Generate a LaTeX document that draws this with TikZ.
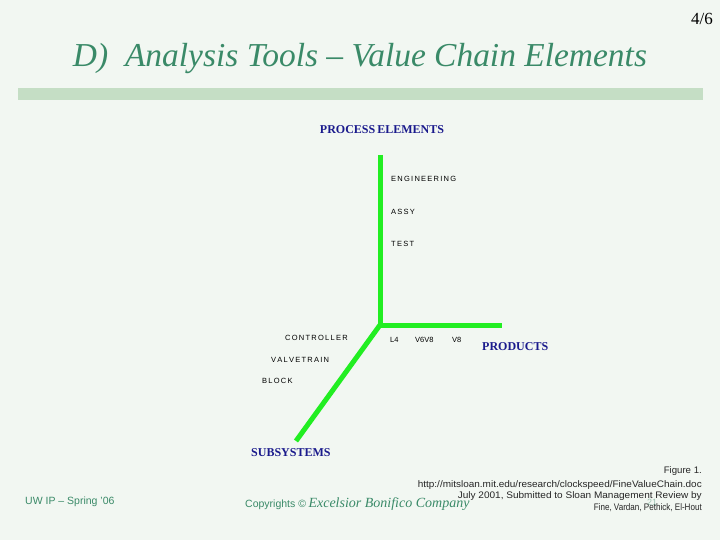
\documentclass[tikz,border=0pt]{standalone}
\usepackage{fontspec}
\usepackage{graphicx}
\setmainfont{Liberation Serif}
\setsansfont{Liberation Sans}
\definecolor{bg}{HTML}{F2F7F2}
\definecolor{titlegreen}{HTML}{3A8A68}
\definecolor{barcol}{HTML}{C5DEC5}
\definecolor{axisgreen}{HTML}{22EE22}
\definecolor{navy}{HTML}{1A1A8C}
\begin{document}
\begin{tikzpicture}[x=1pt,y=-1pt,
  axis/.style={draw=axisgreen,line width=5pt,line cap=butt,line join=miter},
  small/.style={inner sep=0pt,font=\sffamily\fontsize{7.5}{9}\selectfont,text=black},
  big/.style={inner sep=0pt,font=\rmfamily\bfseries\fontsize{12}{14}\selectfont,text=navy},
  foot/.style={inner sep=0pt,font=\sffamily\fontsize{9.5}{11}\selectfont,text=black!85}]
\useasboundingbox (0,0) rectangle (720,540);
\fill[bg] (0,0) rectangle (720,540);
\node[inner sep=0pt,anchor=east,font=\rmfamily\fontsize{17}{20}\selectfont] (page) at (713,19) {4/6};
\node[inner sep=0pt,font=\rmfamily\itshape\fontsize{34}{38}\selectfont,text=titlegreen] (title) at (360,59) {\resizebox{574pt}{!}{D)\enspace Analysis Tools -- Value Chain Elements}};
\fill[barcol] (18,88) rectangle (703,100);
% axes
\coordinate (o) at (380,325);
\coordinate (top) at (380,155);
\coordinate (right) at (502,325);
\coordinate (bot) at (296,441);
\draw[axis] (top) -- (o) -- (right);
\draw[axis] (o) -- (bot);
% labels
\node[big] (pe) at (382,130) {PROCESS\,ELEMENTS};
\node[small,anchor=west] (eng) at (391,179) {E\,N\,G\,I\,N\,E\,E\,R\,I\,N\,G};
\node[small,anchor=west] (assy) at (391,212) {A\,S\,S\,Y};
\node[small,anchor=west] (test) at (391,244) {T\,E\,S\,T};
\node[small,anchor=west] (ctrl) at (285,338) {C\,O\,N\,T\,R\,O\,L\,L\,E\,R};
\node[small,anchor=west] (l4) at (390,340) {L4};
\node[small,anchor=west] (v6v8) at (415,340) {V6V8};
\node[small,anchor=west] (v8) at (452,340) {V8};
\node[big,anchor=west] (prod) at (482,347) {PRODUCTS};
\node[small,anchor=west] (valve) at (271,360) {V\,A\,L\,V\,E\,T\,R\,A\,I\,N};
\node[small,anchor=west] (block) at (262,381) {B\,L\,O\,C\,K};
\node[big,anchor=west] (sub) at (251,453) {SUBSYSTEMS};
% footer
\node[inner sep=0pt,anchor=west,font=\sffamily\fontsize{10.5}{12}\selectfont,text=titlegreen] (uw) at (25,502) {UW IP -- Spring '06};
\node[inner sep=0pt,anchor=west,text=titlegreen] (copy) at (245,504) {{\sffamily\fontsize{10.5}{12}\selectfont Copyrights ©} {\rmfamily\itshape\fontsize{14}{16}\selectfont Excelsior Bonifico Company}};
\node[inner sep=0pt,font=\sffamily\fontsize{9}{11}\selectfont,text=titlegreen!50] (num) at (652,502) {21};
\node[foot,anchor=east] (f1) at (702,471) {\resizebox{38pt}{\height}{Figure 1.}};
\node[foot,anchor=east] (f2) at (702,485) {\resizebox{284pt}{\height}{http://mitsloan.mit.edu/research/clockspeed/FineValueChain.doc}};
\node[foot,anchor=east] (f3) at (702,496.5) {\resizebox{244pt}{\height}{July 2001, Submitted to Sloan Management Review by}};
\node[foot,anchor=east] (f4) at (702,508) {\resizebox{108pt}{\height}{Fine, Vardan, Pethick, El-Hout}};
\end{tikzpicture}
\end{document}
